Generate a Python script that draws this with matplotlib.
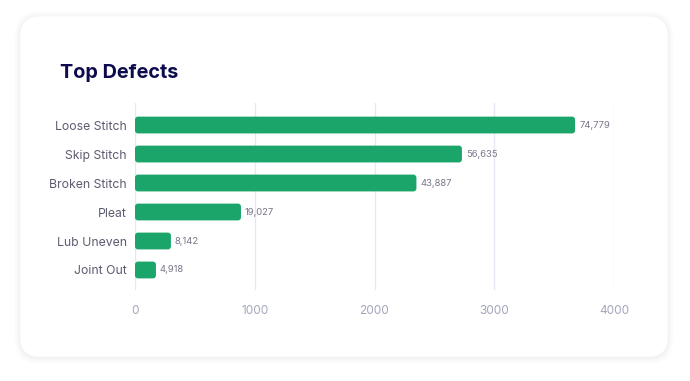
import matplotlib
matplotlib.use('Agg')
import matplotlib.pyplot as plt
from matplotlib.patches import FancyBboxPatch

categories = ['Loose Stitch', 'Skip Stitch', 'Broken Stitch', 'Pleat', 'Lub Uneven', 'Joint Out']
bar_values = [3675, 2730, 2350, 885, 300, 175]
value_labels = ['74,779', '56,635', '43,887', '19,027', '8,142', '4,918']
xticks = [0, 1000, 2000, 3000, 4000]

W, H = 690, 381
fig = plt.figure(figsize=(W / 100, H / 100), dpi=100)
fig.patch.set_facecolor('white')

# card with soft shadow
cx0, cx1, cy0, cy1 = 20, 668, 381 - 357, 381 - 16
for i, a in enumerate([0.006, 0.007, 0.008, 0.01, 0.012]):
    g = 12 - i * 2.4
    fig.patches.append(FancyBboxPatch((cx0 - g / 2, cy0 - g / 2 - 1), cx1 - cx0 + g, cy1 - cy0 + g,
                                      boxstyle='round,pad=0,rounding_size=%f' % (20 + g / 2),
                                      transform=None, facecolor='#1a1a40', alpha=a,
                                      edgecolor='none', zorder=-3))
fig.patches.append(FancyBboxPatch((cx0, cy0), cx1 - cx0, cy1 - cy0,
                                  boxstyle='round,pad=0,rounding_size=20',
                                  transform=None, facecolor='white', edgecolor='#f5f5f8',
                                  linewidth=0.5, zorder=-2))

fig.text(60 / W, 1 - 73 / H, 'Top Defects', fontsize=14.3, fontweight='bold',
         color='#0d0b4d', family=['Inter', 'DejaVu Sans'], va='center')

ax = fig.add_axes([135 / W, 1 - 290 / H, (614 - 135) / W, (290 - 103) / H])
ax.set_facecolor('none')
ax.set_xlim(0, 4000)
ax.set_ylim(5.69, -0.76)

px_x = 4000 / (614 - 135)
px_y = (5.69 + 0.76) / (290 - 103)
bh = 0.58
for i, (v, lab) in enumerate(zip(bar_values, value_labels)):
    ax.add_patch(FancyBboxPatch((0, i - bh / 2), v, bh,
                                boxstyle='round,pad=0,rounding_size=%f' % (3 * px_x),
                                mutation_aspect=px_y / px_x,
                                facecolor='#1ba56a', edgecolor='none', zorder=3))
    ax.text(v + 4 * px_x, i, lab, fontsize=6.8, color='#77778a', va='center', ha='left',
            family=['Inter', 'DejaVu Sans'])

ax.set_yticks(range(len(categories)))
ax.set_yticklabels(categories, fontsize=8.8, color='#5c5c70', family=['Inter', 'DejaVu Sans'])
ax.set_xticks(xticks)
ax.set_xticklabels([str(t) for t in xticks], fontsize=8.5, color='#a3a6ba',
                   family=['Inter', 'DejaVu Sans'])
ax.tick_params(axis='y', length=0, pad=6)
ax.tick_params(axis='x', length=0, pad=11)
ax.grid(axis='x', color='#e6e7f0', linewidth=0.9, zorder=0)
for s in ax.spines.values():
    s.set_visible(False)

plt.savefig('out.png', dpi=100, facecolor='white')
plt.close()
